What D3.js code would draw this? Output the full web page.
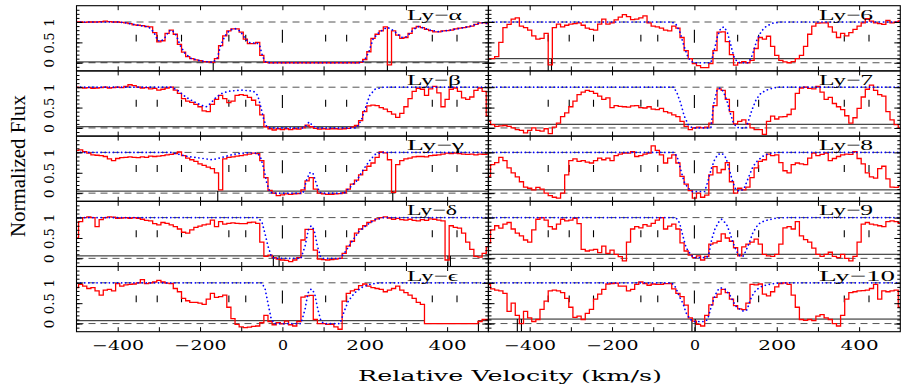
<!DOCTYPE html>
<html>
<head>
<meta charset="utf-8">
<script src="https://cdn.jsdelivr.net/npm/d3@7"></script>
<style>
  body { margin: 0; background: #fff; }
  text { font-family: "Liberation Serif", "DejaVu Serif", serif; fill: #000; }
</style>
</head>
<body>
<svg id="chart" width="901" height="391"></svg>
<script>
// velocity bins of the spectra (km/s), one flux value per bin
const vel = d3.range(-500, 501, 10);

const panelNames = ['Ly−α', 'Ly−β', 'Ly−γ', 'Ly−δ', 'Ly−ϵ', 'Ly−6', 'Ly−7', 'Ly−8', 'Ly−9', 'Ly−10'];
const xTickLabels = [-400, -200, 0, 200, 400];
const yTickLabels = [0, 0.5, 1];
const componentVel = [-355, -304, -245, -130, -89, 105, 156, 364, 424];
const systemVel = 0;

// observed normalized flux (red histograms)
const fluxA = [
  1.0, 1.0, 0.99, 1.0, 1.0, 1.0, 1.01, 1.02, 1.01, 1.0,
  1.0, 0.99, 0.98, 0.96, 0.93, 0.92, 0.91, 0.89, 0.88, 0.74,
  0.51, 0.54, 0.72, 0.80, 0.70, 0.45, 0.26, 0.15, 0.10, 0.07,
  0.05, 0.03, 0.02, 0.01, 0.10, 0.42, 0.66, 0.78, 0.83, 0.83,
  0.75, 0.58, 0.47, 0.47, 0.50, 0.18, 0.01, 0, 0, 0,
  0, 0, 0, 0, 0, 0, 0, 0, 0, 0,
  0, 0, 0, 0, 0, 0, 0, 0, 0, 0.01,
  0.08, 0.27, 0.60, 0.70, 0.78, 0.88, -0.05, 0.78, 0.68, 0.60,
  0.62, 0.72, 0.85, 0.89, 0.86, 0.82, 0.79, 0.76, 0.76, 0.78,
  0.79, 0.80, 0.83, 0.85, 0.86, 0.88, 0.90, 0.94, 0.98, 0.98,
  0.96];
const fluxB = [
  1.0, 0.99, 0.98, 0.99, 0.97, 0.98, 0.99, 1.0, 0.98, 0.99,
  1.0, 0.99, 1.02, 1.06, 1.04, 1.0, 0.98, 0.99, 0.96, 0.97,
  0.93, 0.95, 0.98, 1.0, 0.93, 0.85, 0.72, 0.66, 0.63, 0.58,
  0.52, 0.42, 0.40, 0.58, 0.70, 0.80, 0.72, 0.62, 0.66, 0.80,
  0.82, 0.80, 0.75, 0.68, 0.56, 0.32, 0.03, -0.02, -0.05, -0.02,
  -0.04, -0.02, -0.04, -0.02, -0.03, 0.0, 0.07, 0.03, -0.01, -0.03,
  -0.02, -0.03, -0.02, -0.02, -0.03, -0.02, -0.01, 0.02, 0.06, 0.18,
  0.40, 0.54, 0.56, 0.55, 0.50, 0.46, 0.40, 0.34, 0.26, 0.36,
  0.52, 0.72, 0.90, 0.97, 0.95, 0.80, 0.96, 1.02, 0.86, 0.52,
  0.70, 0.95, 0.98, 0.90, 0.74, 0.70, 0.76, 0.92, 0.98, 0.90,
  0.30];
const fluxG = [
  1.05, 1.06, 1.02, 0.98, 0.94, 0.93, 0.92, 0.90, 0.84, 0.80,
  0.85, 0.87, 0.88, 0.89, 0.88, 0.87, 0.89, 0.88, 0.91, 0.90,
  0.91, 0.92, 0.94, 0.95, 0.97, 1.01, 0.92, 0.86, 0.82, 0.78,
  0.72, 0.68, 0.64, 0.60, 0.50, 0.08, 0.84, 0.88, 0.89, 0.91,
  0.92, 0.94, 0.96, 0.98, 0.97, 0.80, 0.38, 0.07, 0.0, -0.06,
  -0.04, -0.02, -0.03, -0.02, -0.01, 0.08, 0.30, 0.38, 0.10, 0.0,
  -0.02, -0.03, -0.03, -0.02, -0.01, 0.01, 0.10, 0.22, 0.32, 0.45,
  0.56, 0.66, 0.74, 0.88, 1.01, 0.99, 0.82, 0.02, 0.70, 0.80,
  0.84, 0.86, 0.89, 0.90, 0.90, 0.89, 0.92, 0.93, 0.94, 0.96,
  0.98, 0.97, 0.98, 0.97, 0.96, 0.95, 0.96, 0.94, 0.96, 0.95,
  0.96];
const fluxD = [
  0.50, 0.90, 1.0, 1.02, 1.0, 0.78, 0.95, 1.0, 1.02, 1.01,
  0.98, 0.99, 1.0, 0.98, 1.0, 0.98, 0.96, 0.93, 0.92, 0.85,
  0.82, 0.88, 0.86, 0.82, 0.78, 0.72, 0.64, 0.62, 0.70, 0.76,
  0.79, 0.82, 0.84, 0.94, 0.78, 0.90, 0.84, 0.86, 0.87, 0.86,
  0.85, 0.85, 0.88, 0.89, 0.86, 0.40, 0.05, 0.08, 0.02, -0.02,
  -0.04, -0.05, -0.08, -0.04, 0.02, 0.45, 0.71, 0.71, 0.20, -0.02,
  -0.03, -0.04, -0.03, -0.02, 0.0, 0.12, 0.30, 0.42, 0.62, 0.72,
  0.80, 0.88, 0.92, 0.97, 1.0, 1.02, 0.99, 0.96, 0.98, 0.95,
  0.94, 0.96, 0.93, 0.92, 0.95, 0.93, 0.97, 0.96, 0.94, 0.92,
  -0.04, 0.80, 0.76, 0.74, 0.62, 0.40, 0.22, 0.05, 0.03, 0.12,
  0.28];
const fluxE = [
  0.88, 0.96, 0.92, 0.86, 0.88, 0.80, 0.70, 0.82, 0.84, 0.80,
  0.98, 0.92, 0.95, 0.96, 0.97, 1.0, 1.08, 0.98, 1.0, 1.02,
  1.06, 1.02, 0.99, 0.98, 0.86, 0.78, 0.62, 0.56, 0.52, 0.52,
  0.50, 0.47, 0.60, 0.74, 0.64, 0.66, 0.70, 0.40, 0.12, -0.02,
  -0.08, -0.10, -0.09, -0.07, -0.06, 0.02, 0.20, 0.05, -0.03, 0.02,
  -0.01, 0.06, -0.03, -0.06, 0.05, 0.65, 0.68, 0.69, 0.10, 0.0,
  0.0, -0.02, -0.02, -0.08, -0.14, 0.55, 0.74, 0.80, 0.84, 0.93,
  0.97, 0.92, 0.88, 0.86, 0.84, 0.78, 0.82, 0.86, 0.92, 0.82,
  0.76, 0.70, 0.62, 0.52, 0.47, 0, 0, 0, 0, 0,
  0, 0, 0, 0, 0, 0, 0, 0, 0.05, 0.10,
  0.10];
const flux6 = [
  0.10, 0.10, 0.15, 0.50, 0.86, 0.94, 1.07, 1.10, 0.90, 0.86,
  0.80, 0.66, 0.58, 0.60, 0.72, -0.05, 0.86, 0.95, 0.88, 0.92,
  0.95, 0.96, 0.98, 0.92, 0.85, 0.82, 0.80, 0.95, 1.07, 0.95,
  0.98, 1.05, 1.12, 1.18, 1.13, 1.06, 1.07, 1.10, 1.15, 0.98,
  0.90, 0.88, 0.85, 0.80, 0.78, 0.90, 0.85, 0.62, 0.30, 0.10,
  -0.02, -0.07, -0.12, -0.12, -0.02, 0.30, 0.75, 0.76, 0.52, 0.20,
  -0.06, 0.0, 0.03, 0.0, 0.06, 0.35, 0.62, 0.58, 0.65, 0.40,
  0.18, 0.06, 0.02, 0.0, 0.03, 0.10, 0.18, 0.40, 0.70, 0.90,
  0.97, 0.98, 0.98, 0.88, 0.75, 0.62, 0.72, 0.66, 0.74, 0.82,
  0.90, 0.98, 1.08, 1.02, 0.98, 0.96, 0.94, 1.04, 0.98, 1.0,
  1.03];
const flux7 = [
  0.16, 0.08, 0.04, 0.05, 0.06, 0.04, 0.0, -0.04, -0.06, -0.12,
  -0.06, 0.0, -0.06, -0.08, -0.02, -0.14, 0.02, 0.12, 0.28, 0.37,
  0.52, 0.66, 0.82, 0.88, 0.92, 0.90, 0.85, 0.78, 0.70, 0.74,
  0.50, 0.55, 0.53, 0.52, 0.51, 0.54, 0.55, 0.50, 0.49, 0.52,
  0.46, 0.45, 0.48, 0.40, 0.37, 0.32, 0.28, 0.16, 0.04, -0.04,
  0.0, 0.02, 0.0, 0.02, 0.12, 0.55, 0.96, 0.92, 0.70, 0.40,
  0.10, 0.16, 0.20, 0.10, 0.0, -0.04, -0.04, -0.16, 0.16, 0.29,
  0.22, 0.27, 0.28, 0.33, 0.46, 0.85, 0.98, 1.0, 0.97, 0.96,
  1.02, 0.88, 0.70, 0.75, 0.60, 0.52, 0.45, 0.30, 0.12, 0.25,
  0.48, 0.76, 0.95, 1.05, 0.92, 0.82, 0.78, 0.40, 0.20, 0.08,
  0.0];
const flux8 = [
  0.41, 0.70, 0.75, 0.88, 0.80, 0.62, 0.50, 0.40, 0.28, 0.15,
  0.12, 0.08, 0.14, 0.10, 0.0, -0.06, -0.10, -0.12, 0.0, 0.45,
  0.80, 0.84, 0.78, 0.80, 0.76, 0.74, 0.80, 0.86, 0.82, 0.86,
  0.80, 0.92, 0.96, 0.98, 0.98, 1.02, 0.90, 0.92, 0.96, 0.98,
  1.16, 1.05, 0.94, 0.74, 0.86, 0.94, 0.74, 0.41, 0.22, 0.06,
  -0.12, 0.0, -0.10, -0.05, 0.45, 0.65, 0.50, 0.58, 0.75, 0.28,
  0.0, 0.12, 0.08, 0.15, 0.38, 0.62, 0.78, 0.82, 0.96, 0.92,
  0.94, 0.75, 0.55, 0.50, 0.70, 0.74, 0.72, 0.70, 0.86, 0.98,
  0.92, 0.95, 0.98, 0.80, 0.85, 0.90, 0.94, 0.96, 0.95, 1.02,
  0.85, 0.72, 0.50, 0.40, 0.37, 0.60, 0.66, 0.35, 0.15, 0.14,
  0.18];
const flux9 = [
  0.38, 0.70, 0.80, 0.74, 0.84, 0.88, 0.72, 0.62, 0.55, 0.45,
  0.40, 0.70, 0.96, 1.0, 0.94, 0.78, 0.72, 0.84, 0.96, 0.92,
  0.94, 0.98, 0.85, 0.22, 0.18, 0.20, 0.22, 0.14, 0.30, 0.12,
  0.20, 0.10, 0.04, -0.06, 0.40, 0.72, 0.78, 0.75, 0.83, 0.79,
  0.86, 0.94, 1.0, 0.72, 0.79, 0.84, 0.72, 0.38, 0.18, 0.08,
  0.02, 0.06, -0.04, 0.05, 0.35, 0.38, 0.42, 0.60, 0.50, 0.42,
  0.26, 0.06, 0.28, 0.35, 0.40, 0.47, 0.35, 0.10, 0.06, 0.05,
  0.10, 0.35, 0.75, 0.78, 0.72, 0.90, 0.55, 0.46, 0.40, 0.25,
  0.10, 0.05, 0.10, 0.15, 0.05, 0.02, 0.10, 0.0, -0.06, 0.05,
  0.40, 0.84, 0.88, 0.84, 0.82, 0.80, 0.78, 0.90, 0.92, 0.90,
  0.86];
const flux10 = [
  0.96, 0.85, 0.82, 0.80, 0.74, 0.30, 0.50, 0.20, 0.0, 0.30,
  0.14, 0.05, 0.10, 0.35, 0.55, 0.80, 0.82, 0.80, 0.76, 0.62,
  0.40, 0.15, 0.18, 0.10, 0.25, 0.35, 0.60, 0.72, 0.84, 0.97,
  0.98, 0.99, 0.92, 0.92, 0.80, 0.84, 0.96, 1.02, 0.98, 0.94,
  0.97, 0.96, 0.96, 0.98, 0.98, 0.85, 0.74, 0.66, 0.45, 0.14,
  0.06, -0.02, -0.06, 0.20, 0.46, 0.64, 0.72, 0.84, 0.76, 0.60,
  0.44, 0.36, 0.34, 0.50, 0.96, 0.95, 0.97, 0.72, 0.68, 0.78,
  0.90, 0.98, 1.0, 0.96, 0.70, 0.40, 0.10, 0.08, 0.10, 0.07,
  0.18, 0.22, 0.14, 0.10, 0.0, -0.06, 0.20, 0.60, 0.76, 0.78,
  0.80, 0.81, 0.82, 0.86, 0.96, 0.60, 0.80, 0.78, 0.80, 0.82,
  0.40];

// fitted model profiles (blue dotted), [velocity, flux]
const modelA = [[-500,1],[-400,1],[-380,0.98],[-350,0.92],[-325,0.88],[-312,0.75],[-303,0.55],[-295,0.52],[-285,0.62],[-275,0.78],[-268,0.8],[-258,0.68],[-248,0.42],[-236,0.22],[-222,0.11],[-200,0.05],[-180,0.02],[-168,0.01],[-158,0.12],[-150,0.42],[-140,0.65],[-128,0.8],[-115,0.84],[-103,0.78],[-92,0.62],[-82,0.5],[-72,0.48],[-63,0.5],[-55,0.42],[-48,0.15],[-40,0.01],[-30,0],[192,0],[200,0.07],[210,0.27],[220,0.58],[232,0.72],[245,0.82],[255,0.87],[265,0.82],[278,0.72],[290,0.62],[302,0.64],[315,0.78],[328,0.89],[340,0.86],[360,0.8],[380,0.76],[400,0.79],[425,0.83],[455,0.89],[480,0.98],[500,0.97]];
const modelB = [[-500,1],[-270,1],[-255,0.93],[-240,0.8],[-225,0.7],[-210,0.62],[-195,0.55],[-185,0.52],[-175,0.6],[-160,0.76],[-145,0.86],[-130,0.9],[-100,0.93],[-70,0.9],[-60,0.8],[-52,0.5],[-45,0.2],[-38,0.03],[-30,0],[50,0],[58,0.06],[65,0.15],[73,0.06],[82,0],[180,0],[192,0.2],[202,0.5],[212,0.8],[225,0.95],[245,1],[500,1]];
const modelG = [[-500,1],[-270,1],[-250,0.95],[-230,0.9],[-200,0.86],[-170,0.82],[-150,0.87],[-120,0.95],[-90,0.99],[-60,0.98],[-52,0.85],[-45,0.6],[-38,0.25],[-30,0.02],[-20,0],[50,0],[58,0.3],[66,0.5],[74,0.5],[82,0.25],[90,0.02],[100,0],[150,0],[165,0.15],[180,0.3],[198,0.6],[212,0.8],[225,0.95],[240,1],[500,1]];
const modelD = [[-500,1],[-60,1],[-50,0.9],[-42,0.6],[-35,0.3],[-27,0.05],[-20,0],[45,0],[55,0.3],[63,0.7],[70,0.8],[77,0.7],[85,0.3],[93,0.03],[100,0],[140,0],[152,0.15],[168,0.4],[185,0.65],[205,0.82],[225,0.95],[245,1],[500,1]];
const modelE = [[-500,1],[-50,1],[-42,0.85],[-35,0.5],[-28,0.15],[-20,0],[45,0],[55,0.35],[62,0.75],[70,0.85],[78,0.75],[86,0.35],[94,0.05],[102,0],[140,0],[150,0.3],[160,0.55],[175,0.75],[195,0.9],[215,0.97],[240,1],[500,1]];
const model6 = [[-500,1],[-55,1],[-45,0.95],[-35,0.75],[-25,0.4],[-15,0.12],[-5,0.02],[0,0],[40,0],[48,0.3],[56,0.65],[64,0.85],[72,0.88],[80,0.75],[88,0.45],[96,0.15],[104,0.02],[112,0],[130,0],[138,0.12],[145,0.33],[152,0.57],[163,0.78],[175,0.9],[190,0.97],[210,1],[500,1]];
const model7 = [[-500,1],[-50,1],[-42,0.85],[-33,0.6],[-25,0.3],[-15,0.08],[-5,0],[40,0],[47,0.6],[55,0.93],[62,0.98],[70,0.9],[78,0.7],[86,0.4],[94,0.15],[102,0.02],[110,0],[125,0],[132,0.2],[140,0.45],[150,0.7],[162,0.86],[180,0.95],[200,1],[500,1]];
const model8 = [[-500,1],[-50,1],[-42,0.9],[-33,0.57],[-25,0.28],[-15,0.12],[-5,0.04],[25,0.04],[33,0.3],[41,0.6],[49,0.82],[57,0.95],[67,0.98],[77,0.86],[85,0.57],[93,0.28],[101,0.08],[110,0.05],[120,0.1],[132,0.4],[142,0.65],[152,0.78],[165,0.9],[180,0.97],[200,1],[500,1]];
const model9 = [[-500,1],[-45,1],[-36,0.87],[-28,0.55],[-20,0.26],[-12,0.14],[-3,0.02],[30,0.02],[36,0.14],[42,0.47],[50,0.72],[58,0.88],[66,0.96],[78,0.84],[86,0.63],[94,0.38],[102,0.18],[110,0.06],[118,0.05],[125,0.18],[133,0.38],[142,0.63],[155,0.84],[170,0.92],[195,0.98],[220,1],[500,1]];
const model10 = [[-500,1],[-55,1],[-45,0.88],[-37,0.67],[-28,0.5],[-20,0.26],[-10,0.1],[0,0.05],[25,0.05],[32,0.1],[40,0.38],[48,0.63],[55,0.8],[63,0.88],[75,0.84],[88,0.67],[100,0.43],[112,0.34],[120,0.3],[128,0.34],[136,0.59],[144,0.75],[152,0.84],[165,0.92],[180,0.96],[200,0.99],[230,1],[500,1]];

// error spectra (black), [velocity, sigma], and bad-pixel spikes (velocity)
const errorLevel = [0.02, 0.03, 0.05, 0.06, 0.07, 0.10, 0.09, 0.08, 0.10, 0.11];
const errorE = [[-500,0.07],[345,0.07],[345,0],[476,0],[476,0.07],[500,0.07]];
const spikes = [[-168, 255], [], [-157, 268], [-22, -8, 402, 408], [476], [-355, -347], [], [], [], [-430, -420, -6, 2]];

const fluxes = [fluxA, fluxB, fluxG, fluxD, fluxE, flux6, flux7, flux8, flux9, flux10];
const models = [modelA, modelB, modelG, modelD, modelE, model6, model7, model8, model9, model10];

// layout
const TOP = 5.7, PH = 65.2;
const colLeft = [76.5, 488.5], colW = 411.8;
const labelW = [55, 54, 57, 50, 51, 54, 54, 54, 54, 76];

const svg = d3.select('#chart');
const defs = svg.append('defs');
const xs = colLeft.map(l => d3.scaleLinear().domain([-500, 500]).range([l, l + colW]));

function fmtV(d) { return d < 0 ? '−' + (-d) : String(d); }

panelNames.forEach((name, i) => {
  const col = i < 5 ? 0 : 1, row = i % 5;
  const x = xs[col];
  const top = TOP + row * PH;
  const y = d3.scaleLinear().domain([-0.2, 1.4]).range([top + PH, top]);
  const g = svg.append('g');

  defs.append('clipPath').attr('id', 'clip' + i)
    .append('rect').attr('x', colLeft[col]).attr('y', top).attr('width', colW).attr('height', PH);
  const inner = g.append('g').attr('clip-path', 'url(#clip' + i + ')');

  // continuum and zero level
  [0, 1].forEach(lv => {
    inner.append('line')
      .attr('x1', x(-500)).attr('x2', x(500))
      .attr('y1', y(lv)).attr('y2', y(lv))
      .attr('stroke', '#555').attr('stroke-width', 1)
      .attr('stroke-dasharray', '7,5');
  });

  // error spectrum
  const err = i === 4 ? errorE : [[-500, errorLevel[i]], [500, errorLevel[i]]];
  inner.append('path')
    .attr('d', d3.line().x(d => x(d[0])).y(d => y(d[1]))(err))
    .attr('fill', 'none').attr('stroke', '#000').attr('stroke-width', 0.9);
  spikes[i].forEach(v => {
    inner.append('line')
      .attr('x1', x(v)).attr('x2', x(v))
      .attr('y1', y(errorLevel[i])).attr('y2', y(-0.2))
      .attr('stroke', '#000').attr('stroke-width', 1.1);
  });

  // component markers
  componentVel.forEach(v => {
    inner.append('line')
      .attr('x1', x(v)).attr('x2', x(v))
      .attr('y1', y(0.52)).attr('y2', y(0.69))
      .attr('stroke', '#000').attr('stroke-width', 1.1);
  });
  inner.append('line')
    .attr('x1', x(systemVel)).attr('x2', x(systemVel))
    .attr('y1', y(0.49)).attr('y2', y(0.81))
    .attr('stroke', '#000').attr('stroke-width', 1.1);

  // observed flux
  inner.append('path')
    .attr('d', d3.line().curve(d3.curveStep).x((d, k) => x(vel[k])).y(d => y(d))(fluxes[i]))
    .attr('fill', 'none').attr('stroke', '#ff0000').attr('stroke-width', 1.3);

  // model
  inner.append('path')
    .attr('d', d3.line().x(d => x(d[0])).y(d => y(d[1]))(models[i]))
    .attr('fill', 'none').attr('stroke', '#0000ff').attr('stroke-width', 1.7)
    .attr('stroke-linecap', 'round').attr('stroke-dasharray', '0.1,4');

  // axes ticks
  const xTicks = d3.range(-400, 401, 100);
  const tickStyle = s => { s.select('.domain').remove(); s.selectAll('line').attr('stroke', '#000').attr('stroke-width', 1); };
  g.append('g').attr('transform', `translate(0,${top})`)
    .call(d3.axisTop(x).tickValues(xTicks).tickSize(-4.5).tickFormat('')).call(tickStyle);
  g.append('g').attr('transform', `translate(0,${top + PH})`)
    .call(d3.axisBottom(x).tickValues(xTicks).tickSize(-4.5).tickFormat('')).call(tickStyle);
  const minorY = d3.range(-1, 14).map(k => k / 10);
  [[d3.axisLeft, colLeft[col]], [d3.axisRight, colLeft[col] + colW]].forEach(([ax, px]) => {
    g.append('g').attr('transform', `translate(${px},0)`)
      .call(ax(y).tickValues(minorY).tickSize(-3).tickFormat('')).call(tickStyle);
    g.append('g').attr('transform', `translate(${px},0)`)
      .call(ax(y).tickValues(yTickLabels).tickSize(-6).tickFormat('')).call(tickStyle);
  });

  // frame
  g.append('rect')
    .attr('x', colLeft[col]).attr('y', top).attr('width', colW).attr('height', PH)
    .attr('fill', 'none').attr('stroke', '#000').attr('stroke-width', 1.1);

  // y tick labels (left column only)
  if (col === 0) {
    const ya = g.append('g').attr('transform', `translate(${colLeft[col]},0)`)
      .call(d3.axisLeft(y).tickValues(yTickLabels).tickSize(0).tickFormat(d => String(d)));
    ya.select('.domain').remove();
    ya.selectAll('text')
      .attr('x', 0).attr('y', -23).attr('dy', 0)
      .attr('transform', 'rotate(-90)')
      .attr('text-anchor', 'middle')
      .style('font-family', '"DejaVu Serif", serif')
      .style('font-size', '13px')
      .attr('textLength', d => d === 0.5 ? 21 : 9)
      .attr('lengthAdjust', 'spacingAndGlyphs');
  }

  // bottom velocity labels
  if (row === 4) {
    const xa = g.append('g').attr('transform', `translate(0,${top + PH})`)
      .call(d3.axisBottom(x).tickValues(xTickLabels).tickSize(0).tickFormat(fmtV));
    xa.select('.domain').remove();
    xa.selectAll('text')
      .attr('y', 18.5).attr('dy', 0)
      .style('font-family', '"DejaVu Serif", serif')
      .style('font-size', '13px')
      .attr('textLength', d => d === 0 ? 10 : (d < 0 ? 52 : 38))
      .attr('lengthAdjust', 'spacingAndGlyphs');
  }

  // panel label
  g.append('text')
    .attr('x', colLeft[col] + 330.5).attr('y', top + 14)
    .style('font-size', '15px')
    .attr('textLength', labelW[i]).attr('lengthAdjust', 'spacingAndGlyphs')
    .text(name);
});

// axis titles
svg.append('text')
  .attr('transform', 'translate(25,166) rotate(-90)')
  .attr('text-anchor', 'middle')
  .style('font-size', '20px')
  .attr('textLength', 142).attr('lengthAdjust', 'spacingAndGlyphs')
  .text('Normalized Flux');

svg.append('text')
  .attr('x', 510).attr('y', 381)
  .attr('text-anchor', 'middle')
  .style('font-family', '"DejaVu Serif", serif')
  .style('font-size', '14px')
  .attr('textLength', 304).attr('lengthAdjust', 'spacingAndGlyphs')
  .text('Relative Velocity (km/s)');
</script>
</body>
</html>
